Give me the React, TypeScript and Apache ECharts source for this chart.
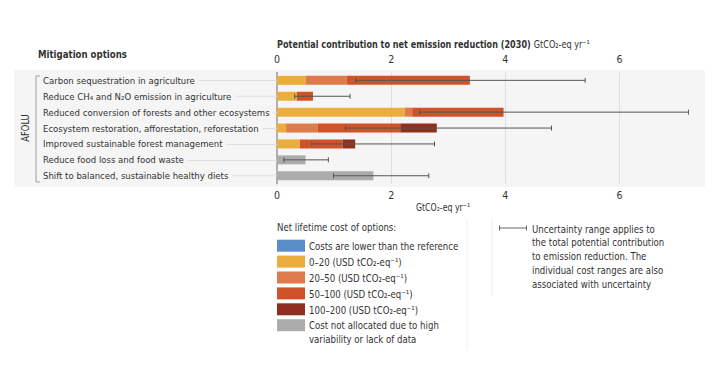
import React, { useEffect, useRef } from "react";
import * as echarts from "echarts";

const categories = [
  "Carbon sequestration in agriculture",
  "Reduce CH₄ and N₂O emission in agriculture",
  "Reduced conversion of forests and other ecosystems",
  "Ecosystem restoration, afforestation, reforestation",
  "Improved sustainable forest management",
  "Reduce food loss and food waste",
  "Shift to balanced, sustainable healthy diets",
];
const costLower = [0, 0, 0, 0, 0, 0, 0];
const cost0to20 = [0.5, 0.35, 2.24, 0.16, 0.4, 0, 0];
const cost20to50 = [0.72, 0, 0.13, 0.55, 0, 0, 0];
const cost50to100 = [2.16, 0.28, 1.6, 1.45, 0.75, 0, 0];
const cost100to200 = [0, 0, 0, 0.64, 0.22, 0, 0];
const costNotAllocated = [0, 0, 0, 0, 0, 0.5, 1.69];
const uncertaintyLow = [1.38, 0.31, 2.5, 1.2, 0.61, 0.12, 0.99];
const uncertaintyHigh = [5.4, 1.28, 7.21, 4.81, 2.76, 0.9, 2.66];
const axisMin = 0;
const axisMax = 7.5;
const tickInterval = 2;

const legendLabels = [
  "Costs are lower than the reference",
  "0–20 (USD tCO₂-eq⁻¹)",
  "20–50 (USD tCO₂-eq⁻¹)",
  "50–100 (USD tCO₂-eq⁻¹)",
  "100–200 (USD tCO₂-eq⁻¹)",
  "Cost not allocated due to high\nvariability or lack of data",
];
const uncertaintyText = [
  "Uncertainty range applies to",
  "the total potential contribution",
  "to emission reduction. The",
  "individual cost ranges are also",
  "associated with uncertainty",
];

const COLORS = ["#5B8DC9", "#EBAE3C", "#DC7B4C", "#CF5229", "#8E2F1F", "#ABABAB"];
const FONT = "'DejaVu Sans Condensed', 'Noto Sans', sans-serif";
const TXT = "#333";
const SX = 0.87;

export default function App() {
  const ref = useRef<HTMLDivElement>(null);
  useEffect(() => {
    if (!ref.current) return;
    const chart = echarts.init(ref.current, null, { renderer: "svg" });
    const stacks = [costLower, cost0to20, cost20to50, cost50to100, cost100to200, costNotAllocated];
    const barSeries = stacks.map((d, i) => ({
      type: "bar",
      name: legendLabels[i],
      stack: "total",
      data: d,
      barWidth: 9,
      xAxisIndex: 0,
      itemStyle: { color: COLORS[i] },
      z: 2,
    }));
    const errData = categories.map((_, i) => [i, uncertaintyLow[i], uncertaintyHigh[i]]);

    const txt = (x: number, y: number, text: string, extra: any = {}) => ({
      type: "text",
      x,
      y,
      scaleX: SX,
      style: { text, fill: TXT, font: `11px ${FONT}`, verticalAlign: "middle", ...extra },
    });

    const graphics: any[] = [
      { type: "rect", z: -10, shape: { x: 14, y: 70, width: 691, height: 117 }, style: { fill: "#F5F5F5" } },
      txt(38, 54, "Mitigation options", { font: `bold 11px ${FONT}` }),
      {
        type: "text",
        x: 277,
        y: 44,
        scaleX: 0.82,
        style: {
          text: "{b|Potential contribution to net emission reduction (2030)} {r|GtCO₂-eq yr⁻¹}",
          verticalAlign: "middle",
          rich: {
            b: { font: `bold 11px ${FONT}`, fill: TXT },
            r: { font: `11px ${FONT}`, fill: TXT },
          },
        },
      },
      {
        type: "text",
        x: 25,
        y: 128,
        rotation: Math.PI / 2,
        scaleX: 0.85,
        style: { text: "AFOLU", fill: TXT, font: `11px ${FONT}`, align: "center", verticalAlign: "middle" },
      },
      { type: "polyline", shape: { points: [[40, 76], [36, 76], [36, 182], [40, 182]] }, style: { stroke: "#888", lineWidth: 0.8, fill: "none" } },
      txt(443, 207, "GtCO₂-eq yr⁻¹", { align: "center", font: `10px ${FONT}` }),
      txt(277, 227, "Net lifetime cost of options:"),
      { type: "line", shape: { x1: 467, y1: 220, x2: 467, y2: 350 }, style: { stroke: "#efefef", lineWidth: 1 } },
      { type: "line", shape: { x1: 492, y1: 218, x2: 492, y2: 295 }, style: { stroke: "#efefef", lineWidth: 1 } },
      { type: "line", shape: { x1: 499, y1: 228, x2: 527, y2: 228 }, style: { stroke: "#666", lineWidth: 1 } },
      { type: "line", shape: { x1: 499.5, y1: 225.5, x2: 499.5, y2: 230.5 }, style: { stroke: "#666", lineWidth: 1 } },
      { type: "line", shape: { x1: 526.5, y1: 225.5, x2: 526.5, y2: 230.5 }, style: { stroke: "#666", lineWidth: 1 } },
    ];
    legendLabels.forEach((lab, i) => {
      const cy = 245.7 + i * 15.9;
      graphics.push({ type: "rect", shape: { x: 277, y: cy - 6, width: 28, height: 12 }, style: { fill: COLORS[i] } });
      graphics.push(txt(309, cy - 7, lab, { verticalAlign: "top", lineHeight: 14 }));
    });
    uncertaintyText.forEach((t, i) => {
      graphics.push(txt(532, 228.3 + i * 13.9, t));
    });

    const xAxisCommon = {
      type: "value",
      min: axisMin,
      max: axisMax,
      interval: tickInterval,
      axisLine: { show: false },
      axisTick: { show: false },
      splitLine: { show: true, showMinLine: false, showMaxLine: false, lineStyle: { color: "#dddddd", width: 1 } },
      axisLabel: { showMaxLabel: false, color: TXT, fontSize: 10.5, fontFamily: FONT },
    };

    chart.setOption({
      animation: false,
      textStyle: { fontFamily: FONT },
      grid: { left: 277, right: 19, top: 72.4, bottom: 186.3, containLabel: false },
      xAxis: [
        { ...xAxisCommon, position: "top", axisLabel: { ...xAxisCommon.axisLabel, margin: 8 } },
        {
          ...xAxisCommon,
          position: "bottom",
          splitLine: { show: false },
          axisLabel: { ...xAxisCommon.axisLabel, margin: 6 },
        },
      ],
      yAxis: {
        type: "category",
        data: categories,
        inverse: true,
        axisLine: { show: true, lineStyle: { color: "#9a9a9a", width: 1.5 } },
        axisTick: { show: true, alignWithLabel: true, length: 234, lineStyle: { color: "#dedede", width: 1 } },
        axisLabel: {
          align: "left",
          margin: 234,
          color: TXT,
          fontSize: 9.5,
          fontFamily: FONT,
          backgroundColor: "#F5F5F5",
          padding: [1, 4, 1, 0],
          overflow: "none",
        },
      },
      series: [
        ...barSeries,
        {
          type: "custom",
          xAxisIndex: 0,
          data: errData,
          encode: { x: [1, 2], y: 0 },
          z: 5,
          renderItem: (params: any, api: any) => {
            const idx = api.value(0);
            const a = api.coord([api.value(1), idx]);
            const b = api.coord([api.value(2), idx]);
            const st = { stroke: "#555", lineWidth: 1 };
            return {
              type: "group",
              children: [
                { type: "line", shape: { x1: a[0], y1: a[1], x2: b[0], y2: b[1] }, style: st },
                { type: "line", shape: { x1: a[0], y1: a[1] - 2.5, x2: a[0], y2: a[1] + 2.5 }, style: st },
                { type: "line", shape: { x1: b[0], y1: b[1] - 2.5, x2: b[0], y2: b[1] + 2.5 }, style: st },
              ],
            };
          },
        },
      ],
      graphic: graphics,
    });
    return () => chart.dispose();
  }, []);
  return <div ref={ref} style={{ width: 724, height: 370, position: "absolute", left: 0, top: 0, background: "#fff" }} />;
}
